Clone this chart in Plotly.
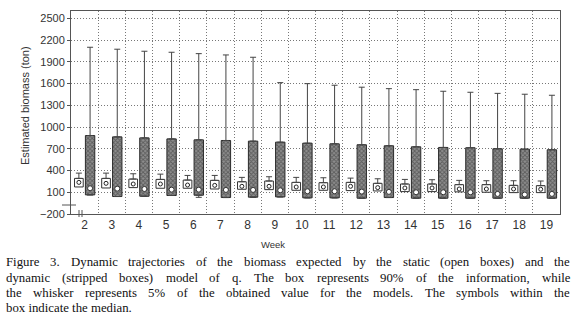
import numpy as np
import plotly.graph_objects as go

weeks = np.arange(2, 20)

# Static model (open boxes)
s_lo = np.array([173, 159, 164, 155, 155, 145, 141, 136, 127, 127, 123, 118, 109, 109, 105, 100, 95, 95])
s_med = np.array([236, 223, 214, 214, 200, 195, 182, 182, 173, 173, 182, 164, 159, 159, 145, 145, 145, 141])
s_hi = np.array([291, 291, 282, 277, 268, 264, 245, 255, 236, 232, 236, 223, 214, 214, 205, 205, 195, 191])
s_wtop = np.array([364, 364, 355, 350, 332, 332, 305, 314, 305, 300, 295, 286, 277, 273, 264, 259, 259, 255])

# Dynamic model (stripped boxes)
d_lo = np.array([64, 41, 45, 55, 59, 27, 32, 36, 23, 23, 18, 27, 18, 18, 18, 18, 18, 18])
d_med = np.array([155, 150, 145, 136, 136, 132, 132, 127, 114, 114, 109, 105, 100, 100, 100, 77, 68, 77])
d_hi = np.array([882, 864, 850, 836, 823, 814, 805, 791, 777, 768, 755, 741, 727, 718, 714, 700, 695, 686])
d_wtop = np.array([2100, 2073, 2045, 2031, 2012, 1994, 1962, 1612, 1598, 1576, 1549, 1529, 1515, 1493, 1479, 1464, 1452, 1438])
d_wlo = np.array([64, 41, 45, 55, 30, 27, 32, 36, 23, 23, 18, 27, 18, 18, 18, 18, 18, 18])

caption = [
    "Figure 3. Dynamic trajectories of the biomass expected by the static (open boxes) and the",
    "dynamic (stripped boxes) model of q. The box represents 90% of the information, while",
    "the whisker represents 5% of the obtained value for the models. The symbols within the",
    "box indicate the median.",
]

# ---- layout geometry (pixels) ----
W, H = 577, 319
ML, MR, MT, MB = 71, 17, 11, 105
PW, PH = W - ML - MR, H - MT - MB


def px_to_paper_x(px):
    return (px - ML) / PW


def py_to_paper_y(py):
    return (H - MB - py) / PH


S_OFF, S_W = -0.37, 0.32
D_OFF, D_W = 0.03, 0.345
s_x = weeks + S_OFF + S_W / 2
d_x = weeks + D_OFF + D_W / 2

fig = go.Figure()

fig.add_trace(go.Bar(
    x=weeks, y=s_hi - s_lo, base=s_lo, offset=S_OFF, width=S_W,
    marker=dict(color="white", line=dict(color="#333", width=1)),
    showlegend=False, hoverinfo="skip"))

fig.add_trace(go.Bar(
    x=weeks, y=d_hi - d_lo, base=d_lo, offset=D_OFF, width=D_W,
    marker=dict(color="#808080",
                pattern=dict(shape="x", fgcolor="#2a2a2a", bgcolor="#8e8e8e", size=3, solidity=0.5),
                line=dict(color="#2a2a2a", width=1)),
    showlegend=False, hoverinfo="skip"))

zeros = np.zeros(len(weeks))
err_style = dict(type="data", symmetric=False, width=3, thickness=1, color="#444")

fig.add_trace(go.Scatter(
    x=s_x, y=s_hi, mode="markers", marker=dict(size=1, color="rgba(0,0,0,0)"),
    error_y=dict(array=s_wtop - s_hi, arrayminus=zeros, **err_style),
    showlegend=False, hoverinfo="skip"))

fig.add_trace(go.Scatter(
    x=d_x, y=d_hi, mode="markers", marker=dict(size=1, color="rgba(0,0,0,0)"),
    error_y=dict(array=d_wtop - d_hi, arrayminus=zeros, **err_style),
    showlegend=False, hoverinfo="skip"))

fig.add_trace(go.Scatter(
    x=d_x, y=d_lo, mode="markers", marker=dict(size=1, color="rgba(0,0,0,0)"),
    error_y=dict(array=zeros, arrayminus=d_lo - d_wlo, **err_style),
    showlegend=False, hoverinfo="skip"))

fig.add_trace(go.Scatter(
    x=s_x, y=s_med, mode="markers",
    marker=dict(symbol="circle", size=4, color="white", line=dict(color="#222", width=1)),
    showlegend=False, hoverinfo="skip"))

fig.add_trace(go.Scatter(
    x=d_x, y=d_med, mode="markers",
    marker=dict(symbol="circle", size=5, color="white", line=dict(color="#333", width=1)),
    showlegend=False, hoverinfo="skip"))

axis_font = dict(family="Liberation Sans, Arial, sans-serif", size=11, color="#333")
grid_dash = "1px,2px"

# ---- justified caption (Times metrics, per 1000 em) ----
TIMES = {" ": 250, "%": 833, "(": 333, ")": 333, ",": 250, ".": 250, "-": 333,
         "a": 444, "b": 500, "c": 444, "d": 500, "e": 444, "f": 333, "g": 500, "h": 500,
         "i": 278, "j": 278, "k": 500, "l": 278, "m": 778, "n": 500, "o": 500, "p": 500,
         "q": 500, "r": 333, "s": 389, "t": 278, "u": 500, "v": 500, "w": 722, "x": 500,
         "y": 500, "z": 444, "D": 722, "F": 556, "T": 611}
CAP_FS = 12.8
CAP_X0, CAP_X1 = 6, 570
cap_rows = [262, 278, 293, 308]
cap_font = dict(family="Liberation Serif, Times New Roman, serif", size=CAP_FS, color="#111")


def wwidth(word):
    return sum(TIMES.get(c, 500) for c in word) / 1000 * CAP_FS


cap_ann = []
for i, (line, py) in enumerate(zip(caption, cap_rows)):
    words = line.split(" ")
    if i < len(caption) - 1:
        tot = sum(wwidth(w) for w in words)
        gap = (CAP_X1 - CAP_X0 - tot) / (len(words) - 1)
        xpos = CAP_X0
        for w in words:
            cap_ann.append(dict(text=w, xref="paper", yref="paper", x=px_to_paper_x(xpos),
                                y=py_to_paper_y(py), xanchor="left", yanchor="middle",
                                showarrow=False, borderpad=0, borderwidth=0, font=cap_font))
            xpos += wwidth(w) + gap
    else:
        cap_ann.append(dict(text=line, xref="paper", yref="paper", x=px_to_paper_x(CAP_X0),
                            y=py_to_paper_y(py), xanchor="left", yanchor="middle",
                            showarrow=False, borderpad=0, borderwidth=0, font=cap_font))

fig.update_layout(
    width=W, height=H,
    margin=dict(l=ML, r=MR, t=MT, b=MB),
    paper_bgcolor="white", plot_bgcolor="white",
    barmode="overlay",
    xaxis=dict(
        range=[1.5, 19.5], tickmode="linear", tick0=2, dtick=1,
        showgrid=False, zeroline=False, ticks="", tickfont=dict(axis_font, size=12),
        showline=True, linecolor="#555", linewidth=1, mirror=True,
        minor=dict(tick0=1.5, dtick=1, showgrid=True, gridcolor="#777",
                   griddash=grid_dash, gridwidth=1, ticks=""),
    ),
    yaxis=dict(
        range=[-200, 2600], tickmode="linear", tick0=-200, dtick=300,
        showgrid=True, gridcolor="#777", griddash=grid_dash, gridwidth=1,
        zeroline=False, ticks="outside", ticklen=3, tickcolor="#555",
        tickfont=axis_font, showline=True, linecolor="#555", linewidth=1, mirror=True,
    ),
    annotations=[
        dict(text="Estimated biomass (ton)", textangle=-90, xref="paper", yref="paper",
             x=px_to_paper_x(25), y=py_to_paper_y(106), xanchor="center", yanchor="middle",
             showarrow=False,
             font=dict(family="Liberation Sans, Arial, sans-serif", size=11, color="#333")),
        dict(text="Week", xref="paper", yref="paper", x=px_to_paper_x(273), y=py_to_paper_y(245),
             xanchor="center", yanchor="middle", showarrow=False,
             font=dict(family="Liberation Sans, Arial, sans-serif", size=9.5, color="#333")),
    ] + cap_ann,
    shapes=[
        dict(type="line", xref="paper", yref="paper", x0=px_to_paper_x(62), x1=px_to_paper_x(76),
             y0=py_to_paper_y(205), y1=py_to_paper_y(205), line=dict(color="#555", width=1)),
        dict(type="line", xref="paper", yref="paper", x0=px_to_paper_x(79), x1=px_to_paper_x(79),
             y0=py_to_paper_y(210), y1=py_to_paper_y(217), line=dict(color="#555", width=1)),
        dict(type="line", xref="paper", yref="paper", x0=px_to_paper_x(82), x1=px_to_paper_x(82),
             y0=py_to_paper_y(210), y1=py_to_paper_y(217), line=dict(color="#555", width=1)),
    ],
)

fig.write_html("out.html", post_script="document.body.style.margin='0px';",
               config={"displayModeBar": False, "staticPlot": True})
